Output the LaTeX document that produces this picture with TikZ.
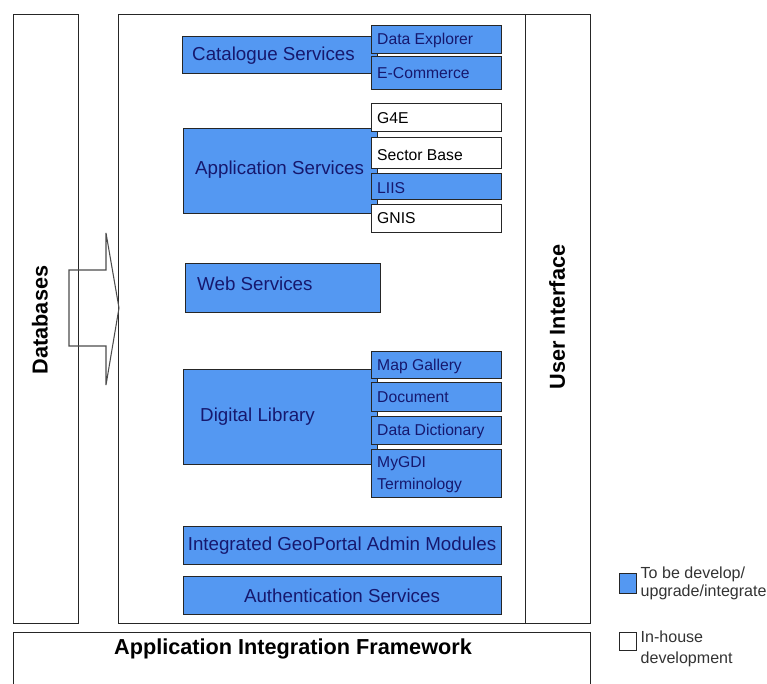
\documentclass[tikz,border=0pt]{standalone}
\usepackage{fontspec}
\setmainfont{Liberation Sans}
\usepackage{tikz}
\usetikzlibrary{positioning}
\definecolor{boxblue}{RGB}{84,152,242}
\definecolor{navy}{RGB}{22,24,110}
\begin{document}
\begin{tikzpicture}[x=0.03cm,y=-0.03cm,
	frame/.style={draw=black!85,line width=0.8pt},
	bluebox/.style={frame,fill=boxblue},
	whitebox/.style={frame,fill=white},
	svc/.style={inner sep=0pt,text=navy,font=\fontsize{16}{18}\selectfont},
	sub/.style={inner sep=0pt,anchor=west,font=\fontsize{13.4}{16}\selectfont},
	head/.style={inner sep=0pt,font=\bfseries\fontsize{18.5}{20}\selectfont},
	legtxt/.style={inner sep=0pt,align=left,text=black!80,font=\fontsize{13.7}{15}\selectfont}]
	\useasboundingbox (0,0) rectangle (767,684);
	
	% outer frames
	\draw[frame] (13,14) rectangle (78,623);
	\draw[frame] (118,14) rectangle (590,623);
	\draw[frame] (525,14) -- (525,623);
	\draw[frame] (13,684) -- (13,632) -- (590,632) -- (590,684);
	\node[head,rotate=90] (db) at (40,320) {Databases};
	\node[head,rotate=90] (ui) at (557,317) {User Interface};
	\node[head] (aif) at (293,649) {Application Integration Framework};
	
	% arrow from databases
	\draw[draw=black!70,line width=0.9pt] (69,270) -- (106,270) -- (106,233) -- (119,308)
		-- (106,385) -- (106,346) -- (69,346) -- cycle;
	
	% catalogue
	\draw[bluebox] (182,36) rectangle (377,73);
	\node[svc,anchor=west] (cat) at (192,56) {Catalogue Services};
	\draw[bluebox] (371,25) rectangle (501,53);
	\node[sub,text=navy] (dex) at (377,40) {Data Explorer};
	\draw[bluebox] (371,56) rectangle (501,89);
	\node[sub,text=navy] (ecom) at (377,73) {E-Commerce};
	
	% application
	\draw[bluebox] (183,128) rectangle (377,213);
	\node[svc,anchor=west] (app) at (195,170) {Application Services};
	\draw[whitebox] (371,103) rectangle (501,131);
	\node[sub] (g4e) at (377,118) {G4E};
	\draw[whitebox] (371,137) rectangle (501,168);
	\node[sub] (sector) at (377,155) {Sector Base};
	\draw[bluebox] (371,173) rectangle (501,199);
	\node[sub,text=navy] (liis) at (377,188) {LIIS};
	\draw[whitebox] (371,204) rectangle (501,232);
	\node[sub] (gnis) at (377,218) {GNIS};
	
	% web
	\draw[bluebox] (185,263) rectangle (380,312);
	\node[svc,anchor=west] (web) at (197,284) {Web Services};
	
	% digital library
	\draw[bluebox] (183,369) rectangle (377,464);
	\node[svc,anchor=west] (dl) at (200,417) {Digital Library};
	\draw[bluebox] (371,351) rectangle (501,378);
	\node[sub,text=navy] (map) at (377,366) {Map Gallery};
	\draw[bluebox] (371,382) rectangle (501,411);
	\node[sub,text=navy] (doc) at (377,397) {Document};
	\draw[bluebox] (371,416) rectangle (501,444);
	\node[sub,text=navy] (dict) at (377,431) {Data Dictionary};
	\draw[bluebox] (371,449) rectangle (501,497);
	\node[sub,text=navy,align=left,font=\fontsize{13.4}{19}\selectfont] (term) at (377,475) {MyGDI\\Terminology};
	
	% bottom modules
	\draw[bluebox] (183,526) rectangle (501,564);
	\node[svc] (admin) at (342,546) {Integrated GeoPortal Admin Modules};
	\draw[bluebox] (183,576) rectangle (501,614);
	\node[svc] (auth) at (342,596) {Authentication Services};
	
	% legend
	\node[bluebox,inner sep=0pt,minimum width=0.51cm,minimum height=0.6cm,anchor=north west] (legblue) at (619,573) {};
	\node[legtxt,right=3pt of legblue] (legbluetxt) {To be develop/\\upgrade/integrate};
	\node[whitebox,inner sep=0pt,minimum width=0.51cm,minimum height=0.54cm,anchor=north west] (legwhite) at (619,632) {};
	\node[legtxt,anchor=north west,font=\fontsize{13.7}{18}\selectfont] (legwhitetxt) at ([xshift=3pt,yshift=1pt]legwhite.north east) {In-house\\development};
\end{tikzpicture}
\end{document}
